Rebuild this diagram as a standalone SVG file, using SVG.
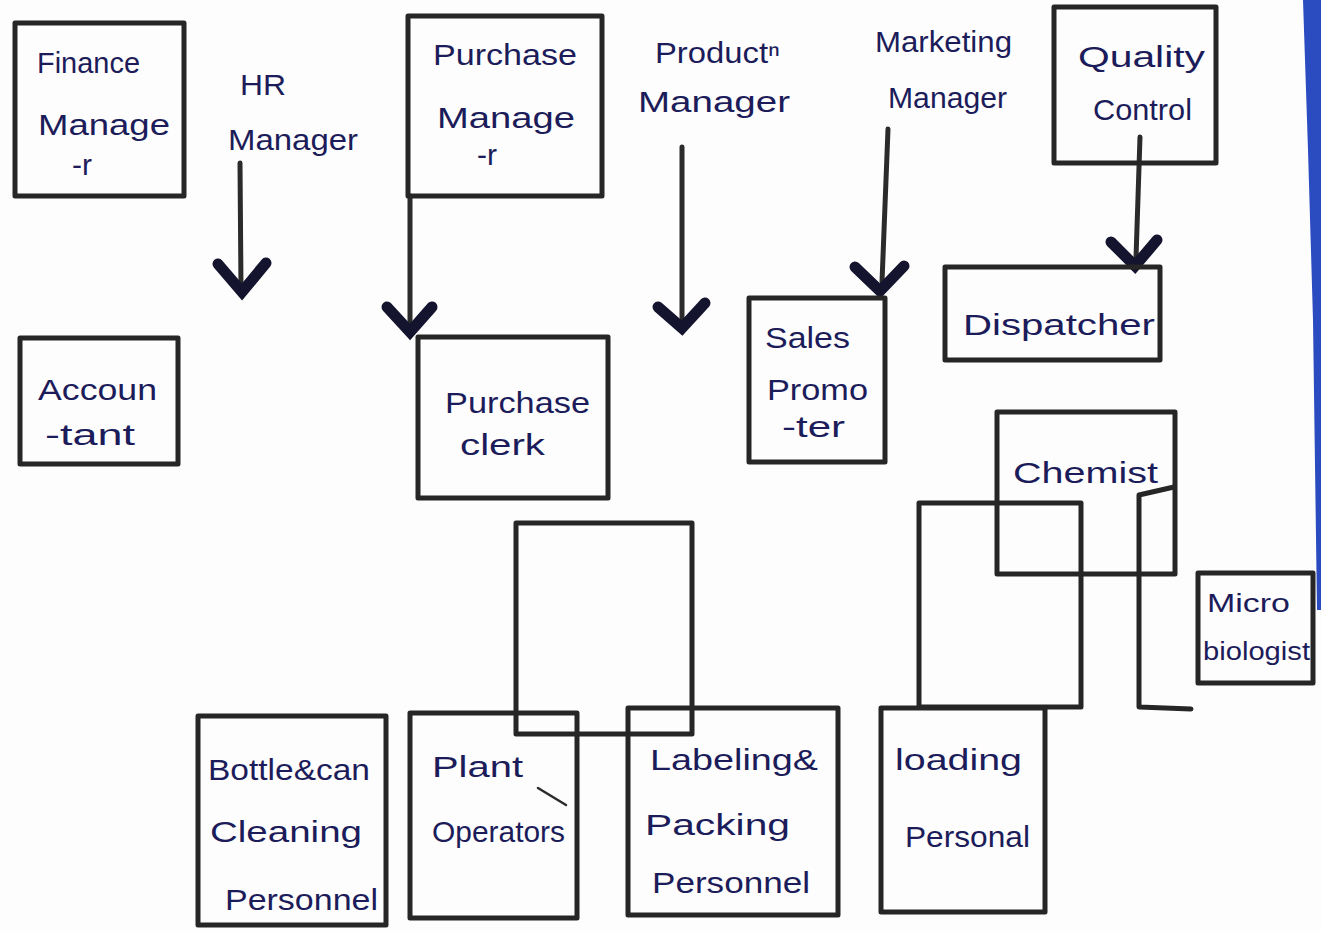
<svg xmlns="http://www.w3.org/2000/svg" width="1321" height="932" viewBox="0 0 1321 932">
<style>
.bx{fill:none;stroke:#262626;stroke-width:5;stroke-linejoin:round;stroke-linecap:round}
.ln{fill:none;stroke:#2b2b2b;stroke-width:5;stroke-linecap:round;stroke-linejoin:round}
.cv{fill:none;stroke:#14142e;stroke-width:11;stroke-linecap:round;stroke-linejoin:miter}
.t{font-family:"Liberation Sans",Arial,sans-serif;font-size:30px;fill:#1c1c5a}
.s{font-size:26px}
</style>
<rect width="1321" height="932" fill="#fdfdfd"/>
<polygon points="1303,0 1321,0 1321,610 1317,610 1313,320 1308,150" fill="#2a4cc0"/>

<g id="connectors">
<line class="ln" x1="240" y1="163" x2="241" y2="288"/>
<polyline class="cv" points="218,264 242,292 266,263"/>
<line class="ln" x1="410" y1="196" x2="410" y2="325"/>
<polyline class="cv" points="387,307 410,332 432,307"/>
<line class="ln" x1="682" y1="147" x2="682" y2="318"/>
<polyline class="cv" points="658,307 682,328 705,303"/>
<line class="ln" x1="888" y1="129" x2="882" y2="282"/>
<polyline class="cv" points="855,267 880,291 904,266"/>
<line class="ln" x1="1140" y1="137" x2="1136" y2="258"/>
<polyline class="cv" points="1111,242 1135,266 1157,240"/>
</g>

<g id="finance"><rect class="bx" x="15" y="23" width="169" height="173"/>
<text class="t" x="37" y="73" textLength="103" lengthAdjust="spacingAndGlyphs">Finance</text>
<text class="t" x="38" y="135" textLength="132" lengthAdjust="spacingAndGlyphs">Manage</text>
<text class="t" x="72" y="175">-r</text></g>

<g id="hr">
<text class="t" x="240" y="95" textLength="46" lengthAdjust="spacingAndGlyphs">HR</text>
<text class="t" x="228" y="150" textLength="130" lengthAdjust="spacingAndGlyphs">Manager</text></g>

<g id="purchase-manager"><rect class="bx" x="408" y="16" width="194" height="180"/>
<text class="t" x="433" y="65" textLength="144" lengthAdjust="spacingAndGlyphs">Purchase</text>
<text class="t" x="437" y="128" textLength="138" lengthAdjust="spacingAndGlyphs">Manage</text>
<text class="t" x="477" y="165">-r</text></g>

<g id="production-manager">
<text class="t" x="655" y="63" textLength="125" lengthAdjust="spacingAndGlyphs">Productⁿ</text>
<text class="t" x="638" y="112" textLength="152" lengthAdjust="spacingAndGlyphs">Manager</text></g>

<g id="marketing-manager">
<text class="t" x="875" y="52" textLength="137" lengthAdjust="spacingAndGlyphs">Marketing</text>
<text class="t" x="888" y="108" textLength="119" lengthAdjust="spacingAndGlyphs">Manager</text></g>

<g id="quality-control"><rect class="bx" x="1054" y="7" width="162" height="156"/>
<text class="t" x="1078" y="67" textLength="127" lengthAdjust="spacingAndGlyphs">Quality</text>
<text class="t" x="1093" y="120" textLength="99" lengthAdjust="spacingAndGlyphs">Control</text></g>

<g id="accountant"><rect class="bx" x="20" y="338" width="158" height="126"/>
<text class="t" x="38" y="400" textLength="119" lengthAdjust="spacingAndGlyphs">Accoun</text>
<text class="t" x="45" y="445" textLength="90" lengthAdjust="spacingAndGlyphs">-tant</text></g>

<g id="purchase-clerk"><rect class="bx" x="418" y="337" width="190" height="161"/>
<text class="t" x="445" y="413" textLength="145" lengthAdjust="spacingAndGlyphs">Purchase</text>
<text class="t" x="460" y="455" textLength="85" lengthAdjust="spacingAndGlyphs">clerk</text></g>

<g id="sales-promoter"><rect class="bx" x="749" y="298" width="136" height="164"/>
<text class="t" x="765" y="348" textLength="85" lengthAdjust="spacingAndGlyphs">Sales</text>
<text class="t" x="767" y="400" textLength="101" lengthAdjust="spacingAndGlyphs">Promo</text>
<text class="t" x="782" y="437" textLength="63" lengthAdjust="spacingAndGlyphs">-ter</text></g>

<g id="dispatcher"><rect class="bx" x="945" y="267" width="215" height="93"/>
<text class="t" x="963" y="335" textLength="192" lengthAdjust="spacingAndGlyphs">Dispatcher</text></g>

<g id="chemist"><rect class="bx" x="997" y="412" width="178" height="162"/>
<text class="t" x="1013" y="483" textLength="145" lengthAdjust="spacingAndGlyphs">Chemist</text></g>

<g id="empty-right"><rect class="bx" x="919" y="503" width="162" height="204"/>
<polyline class="bx" points="1174,487 1139,495 1139,707 1191,709"/></g>

<g id="microbiologist"><rect class="bx" x="1198" y="573" width="115" height="110"/>
<text class="t s" x="1207" y="612" textLength="83" lengthAdjust="spacingAndGlyphs">Micro</text>
<text class="t s" x="1203" y="660" textLength="107" lengthAdjust="spacingAndGlyphs">biologist</text></g>

<g id="empty-middle"><rect class="bx" x="516" y="523" width="176" height="211"/></g>

<g id="bottle-can"><rect class="bx" x="198" y="716" width="188" height="209"/>
<text class="t" x="208" y="780" textLength="162" lengthAdjust="spacingAndGlyphs">Bottle&amp;can</text>
<text class="t" x="210" y="842" textLength="152" lengthAdjust="spacingAndGlyphs">Cleaning</text>
<text class="t" x="225" y="910" textLength="153" lengthAdjust="spacingAndGlyphs">Personnel</text></g>

<g id="plant-operators"><rect class="bx" x="410" y="713" width="167" height="205"/>
<line class="ln" x1="538" y1="788" x2="566" y2="805" style="stroke-width:2.5"/>
<text class="t" x="432" y="777" textLength="91" lengthAdjust="spacingAndGlyphs">Plant</text>
<text class="t" x="432" y="842" textLength="133" lengthAdjust="spacingAndGlyphs">Operators</text></g>

<g id="labeling-packing"><rect class="bx" x="628" y="708" width="210" height="207"/>
<text class="t" x="650" y="770" textLength="168" lengthAdjust="spacingAndGlyphs">Labeling&amp;</text>
<text class="t" x="645" y="835" textLength="145" lengthAdjust="spacingAndGlyphs">Packing</text>
<text class="t" x="652" y="893" textLength="158" lengthAdjust="spacingAndGlyphs">Personnel</text></g>

<g id="loading-personal"><rect class="bx" x="881" y="708" width="164" height="204"/>
<text class="t" x="895" y="770" textLength="127" lengthAdjust="spacingAndGlyphs">loading</text>
<text class="t" x="905" y="847" textLength="125" lengthAdjust="spacingAndGlyphs">Personal</text></g>
</svg>
